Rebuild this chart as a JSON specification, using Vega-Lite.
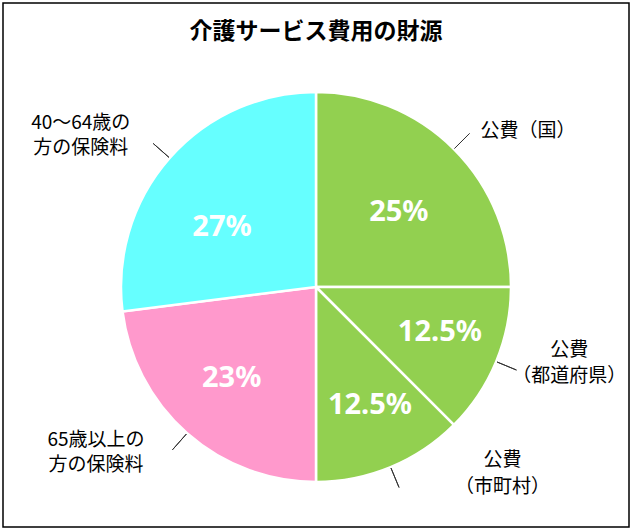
{
  "$schema": "https://vega.github.io/schema/vega-lite/v6.json",
  "width": 626,
  "height": 524,
  "autosize": {"type": "none"},
  "padding": {"left": 3, "top": 3, "right": 4, "bottom": 4},
  "background": "white",
  "view": {"stroke": "black", "strokeWidth": 1.5, "fill": "white"},
  "config": {"view": {"stroke": "black", "strokeWidth": 1.5}, "font": "Noto Sans CJK JP"},
  "title": {"text": "介護サービス費用の財源", "fontSize": 23, "fontWeight": "bold", "font": "Noto Sans CJK JP", "color": "black", "offset": -27, "dy": 25, "baseline": "middle"},
  "data": {"values": [
    {"ord": 1, "source": "公費（国）", "pct": 25, "pctLabel": "25%"},
    {"ord": 2, "source": "公費（都道府県）", "pct": 12.5, "pctLabel": "12.5%"},
    {"ord": 3, "source": "公費（市町村）", "pct": 12.5, "pctLabel": "12.5%"},
    {"ord": 4, "source": "65歳以上の方の保険料", "pct": 23, "pctLabel": "23%"},
    {"ord": 5, "source": "40〜64歳の方の保険料", "pct": 27, "pctLabel": "27%"}
  ]},
  "encoding": {
    "theta": {"field": "pct", "type": "quantitative", "stack": true},
    "order": {"field": "ord", "type": "quantitative"}
  },
  "layer": [
    {
      "mark": {"type": "arc", "outerRadius": 195, "stroke": "white", "strokeWidth": 2.5, "yOffset": 22},
      "encoding": {
        "color": {"field": "source", "type": "nominal", "legend": null,
          "scale": {"domain": ["公費（国）", "公費（都道府県）", "公費（市町村）", "65歳以上の方の保険料", "40〜64歳の方の保険料"],
                    "range": ["#92D050", "#92D050", "#92D050", "#FF99CC", "#66FFFF"]}}
      }
    },
    {
      "mark": {"type": "arc", "radius": 217, "radius2": 196, "padAngle": 1.34, "stroke": "#333333", "strokeWidth": 1, "fill": null, "fillOpacity": 0, "yOffset": 22},
      "encoding": {}
    },
    {
      "mark": {"type": "text", "radius": 120, "fontSize": 29, "fontWeight": "bold", "font": "Noto Sans", "color": "white", "align": "center", "baseline": "middle", "yOffset": 22, "dx": -2, "dy": 10},
      "encoding": {"text": {"condition": {"test": "datum.ord == 1", "field": "pctLabel"}, "value": ""}}
    },
    {
      "mark": {"type": "text", "radius": 120, "fontSize": 29, "fontWeight": "bold", "font": "Noto Sans", "color": "white", "align": "center", "baseline": "middle", "yOffset": 22, "dx": 13, "dy": -1},
      "encoding": {"text": {"condition": {"test": "datum.ord == 2", "field": "pctLabel"}, "value": ""}}
    },
    {
      "mark": {"type": "text", "radius": 120, "fontSize": 29, "fontWeight": "bold", "font": "Noto Sans", "color": "white", "align": "center", "baseline": "middle", "yOffset": 22, "dx": 8, "dy": 7},
      "encoding": {"text": {"condition": {"test": "datum.ord == 3", "field": "pctLabel"}, "value": ""}}
    },
    {
      "mark": {"type": "text", "radius": 120, "fontSize": 29, "fontWeight": "bold", "font": "Noto Sans", "color": "white", "align": "center", "baseline": "middle", "yOffset": 22, "dx": -5, "dy": 1},
      "encoding": {"text": {"condition": {"test": "datum.ord == 4", "field": "pctLabel"}, "value": ""}}
    },
    {
      "mark": {"type": "text", "radius": 120, "fontSize": 29, "fontWeight": "bold", "font": "Noto Sans", "color": "white", "align": "center", "baseline": "middle", "yOffset": 22, "dx": -4, "dy": 19},
      "encoding": {"text": {"condition": {"test": "datum.ord == 5", "field": "pctLabel"}, "value": ""}}
    },
    {
      "mark": {"type": "text", "radius": 195, "fontSize": 19, "color": "black", "align": "center", "baseline": "middle", "yOffset": 22, "dx": 74, "dy": -18},
      "encoding": {"text": {"condition": {"test": "datum.ord == 1", "value": "公費（国）"}, "value": ""}}
    },
    {
      "mark": {"type": "text", "radius": 195, "fontSize": 19, "color": "black", "align": "center", "baseline": "middle", "lineBreak": "\n", "lineHeight": 26, "yOffset": 22, "dx": 73, "dy": -12},
      "encoding": {"text": {"condition": {"test": "datum.ord == 2", "value": "公費\n（都道府県）"}, "value": ""}}
    },
    {
      "mark": {"type": "text", "radius": 195, "fontSize": 19, "color": "black", "align": "center", "baseline": "middle", "lineBreak": "\n", "lineHeight": 27, "yOffset": 22, "dx": 112, "dy": -7},
      "encoding": {"text": {"condition": {"test": "datum.ord == 3", "value": "公費\n（市町村）"}, "value": ""}}
    },
    {
      "mark": {"type": "text", "radius": 195, "fontSize": 19, "color": "black", "align": "center", "baseline": "middle", "lineBreak": "\n", "lineHeight": 25, "yOffset": 22, "dx": -91, "dy": 7},
      "encoding": {"text": {"condition": {"test": "datum.ord == 4", "value": "65歳以上の\n方の保険料"}, "value": ""}}
    },
    {
      "mark": {"type": "text", "radius": 195, "fontSize": 19, "color": "black", "align": "center", "baseline": "middle", "lineBreak": "\n", "lineHeight": 25, "yOffset": 22, "dx": -89, "dy": -35},
      "encoding": {"text": {"condition": {"test": "datum.ord == 5", "value": "40〜64歳の\n方の保険料"}, "value": ""}}
    }
  ]
}
